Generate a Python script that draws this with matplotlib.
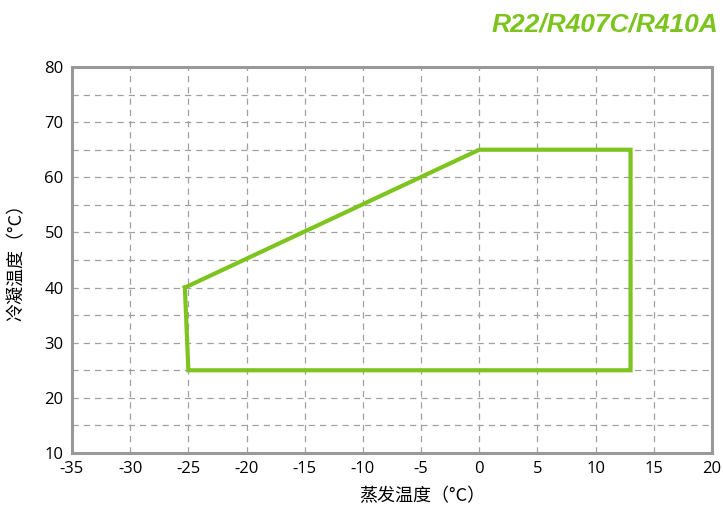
import matplotlib
matplotlib.use("Agg")
import matplotlib.pyplot as plt
from matplotlib.ticker import MultipleLocator

plt.rcParams['font.family'] = ['Noto Sans CJK SC', 'DejaVu Sans']
plt.rcParams['axes.unicode_minus'] = False

evap = [-25.3, 0, 13, 13, -25, -25.3]
cond = [40, 65, 65, 25, 25, 40]
xlabel = "蒸发温度（°C）"
ylabel = "冷凝温度（°C）"
title = "R22/R407C/R410A"

fig = plt.figure(figsize=(7.23, 5.08), dpi=100)
ax = fig.add_axes([72/723, 55/508, 640/723, 386/508])
green = "#7dc41f"
ax.plot(evap, cond, color=green, lw=3, solid_joinstyle='miter', zorder=3)
ax.set_xlim(-35, 20)
ax.set_ylim(10, 80)
ax.xaxis.set_major_locator(MultipleLocator(5))
ax.yaxis.set_major_locator(MultipleLocator(10))
ax.yaxis.set_minor_locator(MultipleLocator(5))
ax.grid(True, which='both', axis='both', linestyle=(0, (5, 4)), color='#a0a0a0', lw=0.9)
ax.tick_params(which='both', length=0, labelsize=12, colors='black', pad=6)
for lab in ax.get_xticklabels() + ax.get_yticklabels():
    lab.set_family('Open Sans')
for s in ax.spines.values():
    s.set_color('#999999')
    s.set_linewidth(2.2)
ax.set_xlabel(xlabel, fontsize=13)
ax.set_ylabel(ylabel, fontsize=13)
ax.xaxis.set_label_coords(0.548, -0.088)
ax.yaxis.set_label_coords(-0.072, 0.505)
fig.text(718/723, 1 - 24/508, title, ha='right', va='center', color=green,
         fontsize=19, fontweight='bold', fontstyle='italic', family='Liberation Sans')
fig.savefig("out.png", dpi=100)
